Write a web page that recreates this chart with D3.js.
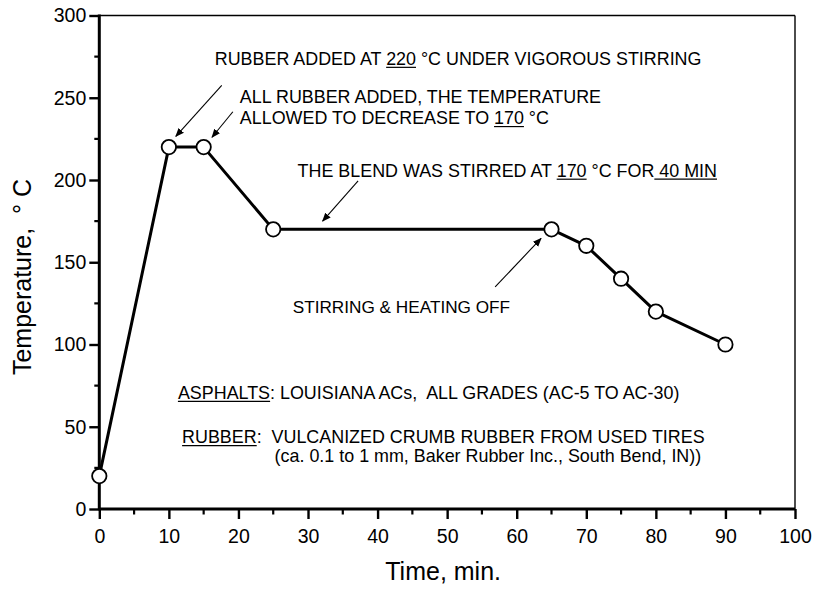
<!DOCTYPE html>
<html>
<head>
<meta charset="utf-8">
<script src="https://cdn.jsdelivr.net/npm/d3@7"></script>
<style>
  html, body { margin: 0; padding: 0; background: #fff; }
  svg { display: block; }
  text { font-family: "Liberation Sans", Arial, sans-serif; fill: #000; }
</style>
</head>
<body>
<svg id="chart" width="815" height="590"></svg>
<script>
// Temperature programme for blending crumb rubber into asphalt
const timeMin = [0, 10, 15, 25, 65, 70, 75, 80, 90];
const tempC   = [20, 220, 220, 170, 170, 160, 140, 120, 100];

const xTickValues = [0, 10, 20, 30, 40, 50, 60, 70, 80, 90, 100];
const xMinorValues = [5, 15, 25, 35, 45, 55, 65, 75, 85, 95];
const yTickValues = [0, 50, 100, 150, 200, 250, 300];
const yMinorValues = [25, 75, 125, 175, 225, 275];

const xTitle = "Time, min.";
const yTitle = "Temperature,  \u00B0 C";

// Annotation lines: [x (min), y (°C), font size, segments]; a segment flagged true is underlined
const noteLines = [
  [16.6, 270, 17.9, [["RUBBER ADDED AT "], ["220", true], [" \u00B0C UNDER VIGOROUS STIRRING"]]],
  [20.2, 247, 17.9, [["ALL RUBBER ADDED, THE TEMPERATURE"]]],
  [20.2, 234, 17.9, [["ALLOWED TO DECREASE TO "], ["170", true], [" \u00B0C"]]],
  [28.5, 202, 17.9, [["THE BLEND WAS STIRRED AT "], ["170", true], [" \u00B0C FOR"], [" 40 MIN", true]]],
  [27.8, 119, 17.2, [["STIRRING & HEATING OFF"]]],
  [11.3, 67, 17.9, [["ASPHALTS", true], [": LOUISIANA ACs,  ALL GRADES (AC-5 TO AC-30)"]]],
  [11.9, 40, 17.9, [["RUBBER", true], [":  VULCANIZED CRUMB RUBBER FROM USED TIRES"]]],
  [25.2, 28.5, 17.9, [["(ca. 0.1 to 1 mm, Baker Rubber Inc., South Bend, IN))"]]]
];

// Pointer arrows: from (min, °C) to (min, °C)
const arrowFrom = [[17.6, 257.5], [19.2, 241.5], [37.2, 199.5], [56.9, 135]];
const arrowTo   = [[11.0, 226.5], [16.2, 226.0], [32.1, 175.0], [63.5, 164.5]];

const svg = d3.select("#chart");
const plot = { left: 99.3, right: 795, top: 15.5, bottom: 509 };

const x = d3.scaleLinear().domain([0, 100]).range([plot.left, plot.right]);
const y = d3.scaleLinear().domain([0, 300]).range([plot.bottom, plot.top]);

svg.append("defs").append("marker")
  .attr("id", "arrowhead")
  .attr("viewBox", "0 0 10 10")
  .attr("refX", 9).attr("refY", 5)
  .attr("markerWidth", 9).attr("markerHeight", 9)
  .attr("markerUnits", "userSpaceOnUse")
  .attr("orient", "auto")
  .append("path").attr("d", "M0,1 L10,5 L0,9 Z").attr("fill", "#000");

// Frame: thin top and right edges
svg.append("line")
  .attr("x1", plot.left).attr("x2", plot.right)
  .attr("y1", plot.top).attr("y2", plot.top)
  .attr("stroke", "#000").attr("stroke-width", 1.6);
svg.append("line")
  .attr("x1", plot.right).attr("x2", plot.right)
  .attr("y1", plot.top).attr("y2", plot.bottom)
  .attr("stroke", "#000").attr("stroke-width", 1.4);

// Bottom axis
const xAxis = svg.append("g")
  .attr("transform", `translate(0,${plot.bottom})`)
  .call(d3.axisBottom(x).tickValues(xTickValues).tickSize(10).tickPadding(10).tickFormat(d3.format("d")));
xAxis.select(".domain").attr("stroke-width", 3).attr("d", `M${plot.left - 1},0H${plot.right}`);
xAxis.selectAll(".tick line").attr("stroke-width", 2.4);
xAxis.selectAll(".tick text")
  .attr("font-size", 19.5).attr("font-family", "Liberation Sans, Arial, sans-serif");
xAxis.selectAll(".minor").data(xMinorValues).enter().append("line")
  .attr("class", "minor")
  .attr("x1", d => x(d)).attr("x2", d => x(d))
  .attr("y1", 0).attr("y2", 5.5)
  .attr("stroke", "#000").attr("stroke-width", 2.2);

// Left axis
const yAxis = svg.append("g")
  .attr("transform", `translate(${plot.left},0)`)
  .call(d3.axisLeft(y).tickValues(yTickValues).tickSize(10).tickPadding(3).tickFormat(d3.format("d")));
yAxis.select(".domain").attr("stroke-width", 3).attr("d", `M0,${plot.top - 1}V${plot.bottom + 1}`);
yAxis.selectAll(".tick line").attr("stroke-width", 2.4);
yAxis.selectAll(".tick text")
  .attr("font-size", 19.5).attr("font-family", "Liberation Sans, Arial, sans-serif");
yAxis.selectAll(".minor").data(yMinorValues).enter().append("line")
  .attr("class", "minor")
  .attr("x1", 0).attr("x2", -5)
  .attr("y1", d => y(d)).attr("y2", d => y(d))
  .attr("stroke", "#000").attr("stroke-width", 2.2);

// Axis titles
svg.append("text")
  .attr("x", (plot.left + plot.right) / 2 - 4).attr("y", 580)
  .attr("text-anchor", "middle").attr("font-size", 25)
  .text(xTitle);
svg.append("text")
  .attr("transform", `translate(31,${277}) rotate(-90)`)
  .attr("text-anchor", "middle").attr("font-size", 25)
  .style("white-space", "pre")
  .text(yTitle);

// Temperature trace
const pts = timeMin.map((t, i) => [t, tempC[i]]);
svg.append("path")
  .datum(pts)
  .attr("fill", "none").attr("stroke", "#000")
  .attr("stroke-width", 3).attr("stroke-linejoin", "round")
  .attr("d", d3.line().x(d => x(d[0])).y(d => y(d[1])));

svg.selectAll("circle.pt").data(pts).enter().append("circle")
  .attr("class", "pt")
  .attr("cx", d => x(d[0])).attr("cy", d => y(d[1]))
  .attr("r", 7.2)
  .attr("fill", "#fff").attr("stroke", "#000").attr("stroke-width", 1.8);

// Pointer arrows
svg.selectAll("line.arrow").data(arrowFrom).enter().append("line")
  .attr("class", "arrow")
  .attr("x1", d => x(d[0])).attr("y1", d => y(d[1]))
  .attr("x2", (d, i) => x(arrowTo[i][0])).attr("y2", (d, i) => y(arrowTo[i][1]))
  .attr("stroke", "#000").attr("stroke-width", 1.1)
  .attr("marker-end", "url(#arrowhead)");

// Annotation text with underlined segments
noteLines.forEach(([tx, ty, fs, segs]) => {
  const t = svg.append("text")
    .attr("x", x(tx)).attr("y", y(ty))
    .attr("font-size", fs)
    .style("white-space", "pre");
  const spans = segs.map(s => t.append("tspan").text(s[0]));
  segs.forEach((s, i) => {
    if (!s[1]) return;
    const bb = spans[i].node().getBBox();
    svg.append("line")
      .attr("x1", bb.x).attr("x2", bb.x + bb.width)
      .attr("y1", y(ty) + 2.5).attr("y2", y(ty) + 2.5)
      .attr("stroke", "#000").attr("stroke-width", 1.2);
  });
});
</script>
</body>
</html>
